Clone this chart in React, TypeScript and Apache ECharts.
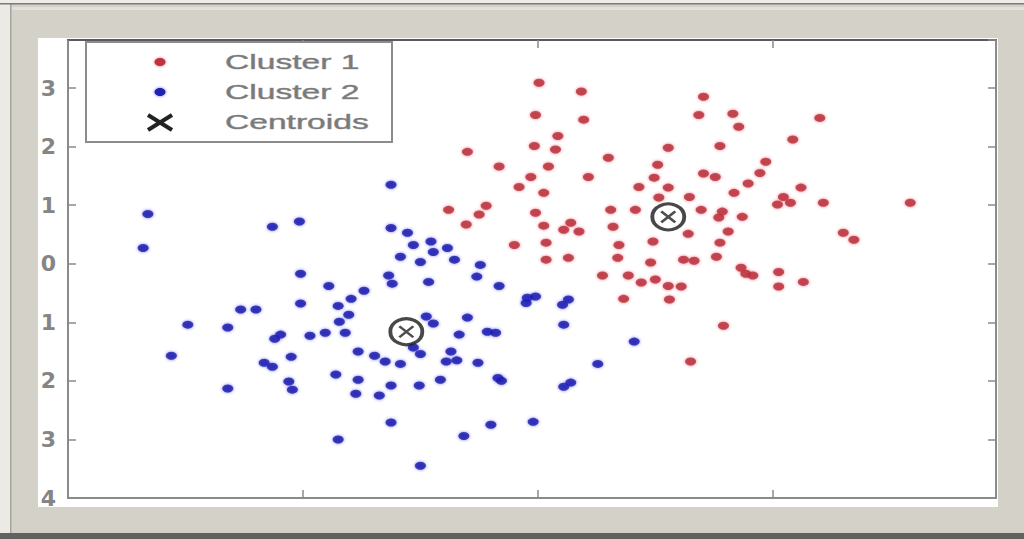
import React, { useEffect, useRef } from "react";
import * as echarts from "echarts";

const legendLabels = ["Cluster 1", "Cluster 2", "Centroids"];

const cluster1: number[][] = [
  [0.01, 3.09], [0.37, 2.94], [-0.02, 2.54], [0.39, 2.46], [0.17, 2.18], [-0.03, 2.01],
  [0.15, 1.95], [-0.6, 1.91], [0.6, 1.81], [-0.33, 1.66], [0.09, 1.66], [-0.06, 1.48],
  [-0.16, 1.31], [0.43, 1.48], [0.05, 1.21], [-0.76, 0.92], [-0.44, 0.99], [-0.5, 0.84],
  [-0.61, 0.67], [-0.02, 0.87], [0.05, 0.65], [0.28, 0.7], [0.22, 0.58], [0.35, 0.55],
  [-0.2, 0.32], [0.07, 0.36], [0.07, 0.07], [0.26, 0.1], [0.62, 0.92], [0.64, 0.63],
  [0.69, 0.32], [0.68, 0.1], [0.55, -0.2], [0.73, -0.6], [0.77, -0.2], [0.88, -0.32],
  [1.0, -0.27], [1.11, -0.38], [0.86, 1.31], [0.99, 1.47], [1.02, 1.69], [0.83, 0.92],
  [0.98, 0.38], [0.96, 0.02], [1.41, 2.85], [1.37, 2.54], [1.66, 2.56], [1.71, 2.34],
  [2.4, 2.49], [1.11, 1.98], [1.55, 2.01], [2.17, 2.12], [1.94, 1.74], [1.89, 1.55],
  [1.79, 1.37], [1.41, 1.54], [1.51, 1.48], [1.67, 1.21], [2.24, 1.3], [2.09, 1.14],
  [2.04, 1.01], [2.15, 1.04], [2.43, 1.04], [1.29, 1.14], [1.11, 1.3], [1.03, 1.13],
  [1.39, 0.92], [1.57, 0.89], [1.54, 0.79], [1.74, 0.8], [1.28, 0.51], [1.62, 0.55],
  [1.55, 0.36], [1.24, 0.07], [1.33, 0.05], [1.52, 0.12], [1.73, -0.07], [1.83, -0.2],
  [1.77, -0.17], [2.05, -0.14], [2.26, -0.31], [2.05, -0.39], [2.6, 0.53], [2.69, 0.41],
  [3.17, 1.04], [1.22, -0.39], [1.12, -0.61], [1.58, -1.06], [1.3, -1.67],
];

const cluster2: number[][] = [
  [-3.32, 0.85], [-3.36, 0.27], [-2.26, 0.63], [-2.03, 0.72], [-1.25, 1.35], [-1.25, 0.61],
  [-1.11, 0.53], [-1.06, 0.32], [-0.91, 0.38], [-0.89, 0.2], [-0.77, 0.27], [-1.17, 0.12],
  [-1.0, 0.03], [-0.71, 0.07], [-0.49, -0.02], [-0.52, -0.22], [-2.02, -0.17], [-1.78, -0.38],
  [-1.48, -0.46], [-1.59, -0.6], [-1.7, -0.72], [-1.27, -0.2], [-1.24, -0.34], [-0.93, -0.31],
  [-0.33, -0.38], [-0.09, -0.58], [-0.02, -0.56], [-0.1, -0.67], [0.26, -0.61], [0.21, -0.7],
  [0.22, -1.04], [0.82, -1.33], [-2.02, -0.68], [-2.53, -0.78], [-2.4, -0.78], [-1.61, -0.87],
  [-1.69, -0.99], [-2.98, -1.04], [-2.64, -1.09], [-2.19, -1.21], [-2.24, -1.28], [-1.94, -1.23],
  [-1.81, -1.18], [-1.64, -1.18], [-0.95, -0.9], [-0.89, -1.02], [-0.6, -0.92], [-0.67, -1.21],
  [-0.43, -1.16], [-0.36, -1.18], [-3.12, -1.57], [-2.1, -1.59], [-2.33, -1.69], [-2.26, -1.76],
  [-1.53, -1.5], [-1.39, -1.57], [-1.3, -1.67], [-1.17, -1.71], [-1.06, -1.43], [-1.0, -1.54],
  [-0.74, -1.5], [-0.78, -1.67], [-0.69, -1.65], [-0.51, -1.69], [-1.72, -1.89], [-1.53, -1.98],
  [-2.12, -2.01], [-2.09, -2.15], [-2.64, -2.13], [-1.25, -2.08], [-1.01, -2.08], [-1.55, -2.22],
  [-1.35, -2.25], [-0.83, -1.98], [-0.34, -1.95], [-0.31, -2.0], [0.22, -2.1], [0.28, -2.03],
  [0.51, -1.71], [-1.25, -2.71], [-1.7, -3.0], [-0.63, -2.94], [-0.4, -2.75], [-0.04, -2.7],
  [-1.0, -3.45],
];

const centroids: number[][] = [
  [1.11, 0.8],
  [-1.12, -1.16],
];

const xMin = -4;
const xMax = 3.9;
const xStep = 2;
const yMin = -4;
const yMax = 3.82;
const yStep = 1;

export default function App() {
  const ref = useRef<HTMLDivElement>(null);

  useEffect(() => {
    if (!ref.current) return;
    const chart = echarts.init(ref.current, null, { renderer: "svg" });

    const frame = [
      { type: "rect", z: -20, shape: { x: 0, y: 0, width: 1024, height: 539 }, style: { fill: "#d4d1c9" } },
      { type: "rect", z: -19, shape: { x: 0, y: 0, width: 10, height: 539 }, style: { fill: "#eceae4" } },
      { type: "rect", z: -19, shape: { x: 10, y: 4, width: 1.5, height: 530 }, style: { fill: "#a8a59e" } },
      { type: "rect", z: -19, shape: { x: 0, y: 0, width: 1024, height: 3 }, style: { fill: "#eeede8" } },
      { type: "rect", z: -19, shape: { x: 0, y: 3, width: 1024, height: 1.5 }, style: { fill: "#7d7b76" } },
      { type: "rect", z: -19, shape: { x: 12, y: 7, width: 1012, height: 3 }, style: { fill: "#e3e1da" } },
      { type: "rect", z: -19, shape: { x: 0, y: 533, width: 1024, height: 6 }, style: { fill: "#64625e" } },
      { type: "rect", z: -18, shape: { x: 38, y: 38, width: 960, height: 469 }, style: { fill: "#ffffff" } },
    ];

    const lx = 225;
    const legend = [
      { type: "rect", z: 20, shape: { x: 86, y: 42, width: 306, height: 100 }, style: { fill: "#ffffff", stroke: "#8c8c8c", lineWidth: 2 } },
      { type: "ellipse", z: 21, shape: { cx: 160, cy: 62, rx: 5.5, ry: 4 }, style: { fill: "#c1323c", shadowBlur: 3, shadowColor: "rgba(230,60,80,0.7)" } },
      { type: "ellipse", z: 21, shape: { cx: 160, cy: 92, rx: 5.5, ry: 4 }, style: { fill: "#2323b0", shadowBlur: 3, shadowColor: "rgba(60,60,255,0.7)" } },
      { type: "line", z: 21, shape: { x1: 148, y1: 115, x2: 172, y2: 130 }, style: { stroke: "#222", lineWidth: 4 } },
      { type: "line", z: 21, shape: { x1: 148, y1: 130, x2: 172, y2: 115 }, style: { stroke: "#222", lineWidth: 4 } },
      ...legendLabels.map((t, i) => ({
        type: "text",
        z: 21,
        x: lx,
        y: 62 + i * 30,
        scaleX: 1.6,
        style: {
          text: t,
          font: "21px 'Liberation Sans', Arial, sans-serif",
          fill: "#7a7a7a",
          stroke: "#a8a8a8",
          lineWidth: 0.6,
          textAlign: "left",
          textVerticalAlign: "middle",
          align: "left",
          verticalAlign: "middle",
        },
      })),
    ];

    const axisBase = {
      type: "value" as const,
      axisLine: { show: true, onZero: false, lineStyle: { color: "#8a8a8a", width: 2 } },
      axisTick: { show: true, inside: true, length: 8, lineStyle: { color: "#8a8a8a", width: 1.5 } },
      splitLine: { show: false },
    };

    chart.setOption({
      animation: false,
      backgroundColor: "#d4d1c9",
      grid: { left: 68, right: 28, top: 40, bottom: 41 },
      graphic: [...frame, ...legend],
      xAxis: [
        { ...axisBase, position: "bottom", min: xMin, max: xMax, interval: xStep, axisLabel: { show: false } },
        {
          ...axisBase,
          position: "top",
          min: xMin,
          max: xMax,
          interval: xStep,
          axisLabel: { show: false },
          axisLine: { show: true, onZero: false, lineStyle: { color: "#5a5a5a", width: 2 } },
        },
      ],
      yAxis: [
        {
          ...axisBase,
          position: "left",
          min: yMin,
          max: yMax,
          interval: yStep,
          axisLabel: {
            show: true,
            showMaxLabel: false,
            margin: 12,
            fontSize: 22,
            fontWeight: "bold",
            fontFamily: "'DejaVu Sans', sans-serif",
            color: "#858585",
            formatter: (v: number) => String(Math.abs(v)),
          },
        },
        { ...axisBase, position: "right", min: yMin, max: yMax, interval: yStep, axisLabel: { show: false } },
      ],
      series: [
        {
          name: "Cluster 1",
          type: "scatter",
          data: cluster1,
          symbol: "circle",
          symbolSize: [11, 8],
          itemStyle: { color: "#b3323f", shadowBlur: 3, shadowColor: "rgba(235,50,60,0.8)" },
          z: 3,
        },
        {
          name: "Cluster 2",
          type: "scatter",
          data: cluster2,
          symbol: "circle",
          symbolSize: [11, 8],
          itemStyle: { color: "#1c1ca0", shadowBlur: 3, shadowColor: "rgba(50,50,255,0.8)" },
          z: 4,
        },
        {
          name: "Centroids",
          type: "scatter",
          data: centroids,
          symbol: "circle",
          symbolSize: [32, 26],
          itemStyle: { color: "rgba(255,255,255,0.35)", borderColor: "#1a1a1a", borderWidth: 3.5 },
          z: 5,
        },
        {
          name: "Centroids X",
          type: "scatter",
          data: centroids,
          symbol: "path://M0 0L10 10M10 0L0 10",
          symbolSize: [14, 11],
          itemStyle: { color: "transparent", borderColor: "#222", borderWidth: 2.5 },
          z: 6,
        },
      ],
    });

    return () => chart.dispose();
  }, []);

  return (
    <div
      ref={ref}
      style={{ position: "fixed", left: 0, top: 0, width: 1024, height: 539 }}
    />
  );
}
